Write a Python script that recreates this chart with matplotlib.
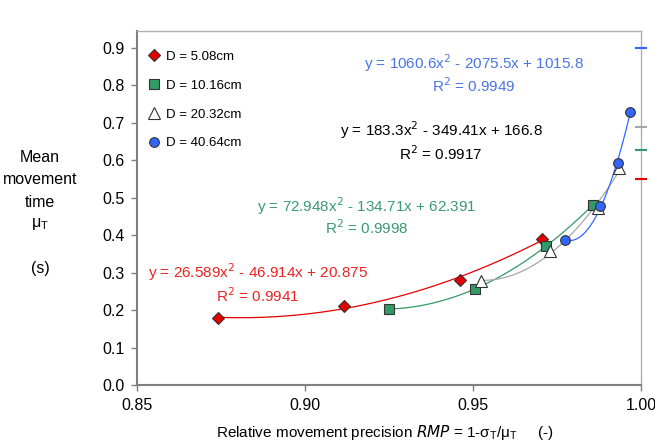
import numpy as np
import matplotlib
matplotlib.use("Agg")
import matplotlib.pyplot as plt

plt.rcParams['font.family'] = ['Liberation Sans', 'DejaVu Sans']

labels = ["D = 5.08cm", "D = 10.16cm", "D = 20.32cm", "D = 40.64cm"]
x_red = [0.874, 0.9117, 0.946, 0.9705]
y_red = [0.179, 0.211, 0.280, 0.390]
x_green = [0.9249, 0.9505, 0.9717, 0.9857]
y_green = [0.203, 0.256, 0.371, 0.481]
x_grey = [0.9523, 0.9729, 0.9872, 0.9935]
y_grey = [0.278, 0.358, 0.473, 0.580]
x_blue = [0.9773, 0.9878, 0.9932, 0.9967]
y_blue = [0.387, 0.478, 0.593, 0.729]
asym = [0.549, 0.627, 0.689, 0.900]  # right-edge dashes: red, green, grey, blue

eq_red = ["y = 26.589x$^2$ - 46.914x + 20.875", "R$^2$ = 0.9941"]
eq_green = ["y = 72.948x$^2$ - 134.71x + 62.391", "R$^2$ = 0.9998"]
eq_grey = ["y = 183.3x$^2$ - 349.41x + 166.8", "R$^2$ = 0.9917"]
eq_blue = ["y = 1060.6x$^2$ - 2075.5x + 1015.8", "R$^2$ = 0.9949"]

c_red = "#E60000"
c_green = "#339966"
c_grey = "#A6A6A6"
c_blue = "#3366FF"
t_red = "#EE2222"
t_green = "#3A9A70"
t_blue = "#4A74E8"

fig = plt.figure(figsize=(6.55, 4.41), dpi=100)
ax = fig.add_axes([137/655, 1-385/441, (641-137)/655, (385-31)/441])

series = [
    (x_red, y_red, c_red, "D", c_red, 6),
    (x_green, y_green, c_green, "s", c_green, 7),
    (x_grey, y_grey, c_grey, "^", "white", 8),
    (x_blue, y_blue, c_blue, "o", c_blue, 7),
]
for (xs, ys, lc, m, fc, ms), lab in zip(series, labels):
    p = np.polyfit(xs, ys, 2)
    xx = np.linspace(min(xs), max(xs), 200)
    ax.plot(xx, np.polyval(p, xx), color=lc, lw=0.9, zorder=2)
    ax.plot(xs, ys, linestyle="none", marker=m, ms=ms, mfc=fc, mec="#333333",
            mew=0.8, zorder=3, label=lab)

for val, col in zip(asym, [c_red, c_green, c_grey, c_blue]):
    ax.plot([1.0], [val], marker="_", ms=9, mew=1.5, color=col, clip_on=False, zorder=4)

ax.set_xlim(0.85, 1.0)
ax.set_ylim(0.0, 0.9455)
ax.set_xticks([0.85, 0.90, 0.95, 1.00])
ax.set_xticklabels(["0.85", "0.90", "0.95", "1.00"])
ax.set_yticks(np.arange(0, 0.91, 0.1))
ax.set_yticklabels([f"{v:.1f}" for v in np.arange(0, 0.91, 0.1)])
ax.tick_params(axis="both", direction="out", length=4, width=1, color="#808080",
               labelsize=11.5, pad=5)
for s in ["left", "bottom"]:
    ax.spines[s].set_color("#808080")
    ax.spines[s].set_linewidth(1.5)
for s in ["top", "right"]:
    ax.spines[s].set_color("#B0B0B0")
    ax.spines[s].set_linewidth(1.0)

leg = ax.legend(loc="upper left", bbox_to_anchor=(0.0, 0.97), frameon=False,
                fontsize=9.5, handletextpad=0.3, labelspacing=1.25, borderaxespad=0.3,
                handlelength=1.2)

def put(lines, cx, y1, y2, col):
    fig.text(cx/655, 1-y1/441, lines[0], ha="center", va="center", color=col, fontsize=11)
    fig.text(cx/655, 1-y2/441, lines[1], ha="center", va="center", color=col, fontsize=11)

put(eq_blue, 474, 63, 86, t_blue)
put(eq_grey, 441, 130, 154, "black")
put(eq_green, 367, 206, 228, t_green)
put(eq_red, 258, 272, 296, t_red)

ylab = ["Mean", "movement", "time", r"$\mathregular{\mu_T}$", "(s)"]
ypos = [157, 180, 203, 224, 268]
for t, yy in zip(ylab, ypos):
    fig.text(40/655, 1-yy/441, t, ha="center", va="center", fontsize=11.5)

fig.text(385/655, 1-432/441, r"Relative movement precision $\mathit{RMP}$ = 1-$\mathregular{\sigma_T/\mu_{T}}$     (-)",
         ha="center", va="center", fontsize=11)

fig.savefig("out.png", dpi=100)
